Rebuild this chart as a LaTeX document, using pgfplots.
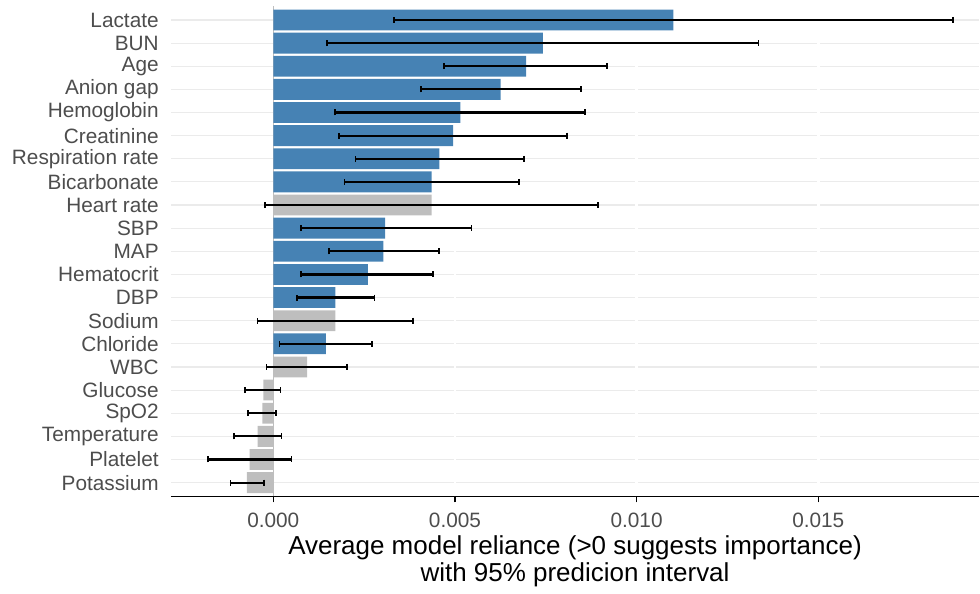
\documentclass[border=0pt]{standalone}
\usepackage{pgfplots}
\usepackage{pgfplotstable}
\pgfplotsset{compat=1.18}
\usepackage{fontspec}
\setmainfont{Liberation Sans}
\definecolor{steel}{HTML}{4682B4}
\definecolor{gry}{HTML}{BEBEBE}
\definecolor{txt}{HTML}{4D4D4D}
\definecolor{gridc}{HTML}{EBEBEB}

\pgfplotstableread{
y val lo hi
21 0.01101 0.00332 0.01871
20 0.00742 0.00147 0.01336
19 0.00696 0.00470 0.00919
18 0.00626 0.00407 0.00847
17 0.00515 0.00170 0.00858
16 0.00495 0.00181 0.00808
15 0.00457 0.00226 0.00690
14 0.00436 0.00196 0.00677
12 0.00308 0.00076 0.00545
11 0.00303 0.00154 0.00456
10 0.00260 0.00076 0.00439
9 0.00171 0.00065 0.00278
7 0.00145 0.00017 0.00272
}\blue

\pgfplotstableread{
y val lo hi
13 0.00436 -0.00023 0.00893
8 0.00171 -0.00043 0.00384
6 0.00093 -0.00019 0.00203
5 -0.00027 -0.00078 0.00020
4 -0.00030 -0.00070 0.00007
3 -0.00043 -0.00109 0.00023
2 -0.00065 -0.00180 0.00050
1 -0.00073 -0.00118 -0.00026
}\grey

\begin{document}
\begin{tikzpicture}
\begin{axis}[
 scale only axis, width=809pt, height=490.8pt,
 xmin=-0.00282, xmax=0.01943, ymin=0.4, ymax=21.6,
 axis x line*=bottom, axis y line*=left,
 x axis line style={-, black, line width=1.6pt},
 y axis line style={draw=none},
 xtick={0,0.005,0.01,0.015}, xticklabels={0.000,0.005,0.010,0.015},
 scaled x ticks=false,
 ytick={1,...,21},
 yticklabels={Potassium,Platelet,Temperature,SpO2,Glucose,WBC,Chloride,Sodium,DBP,Hematocrit,MAP,SBP,Heart rate,Bicarbonate,Respiration rate,Creatinine,Hemoglobin,Anion gap,Age,BUN,Lactate},
 ymajorgrids, y grid style={gridc, line width=1.1pt},
 ytick style={draw=none},
 xtick style={black, line width=1.2pt},
 tick align=outside, major tick length=6pt,
 yticklabel style={font=\fontsize{20.8}{24}\selectfont, text=txt, inner sep=0pt, xshift=-6pt},
 xticklabel style={font=\fontsize{20.8}{24}\selectfont, text=txt, inner sep=0pt, yshift=-10pt},
 xlabel={Average model reliance (>0 suggests importance)\\with 95\% predicion interval},
 xlabel style={font=\fontsize{26}{27}\selectfont, align=center, inner sep=0pt, yshift=-8pt},
 clip=false,
]
\addplot[white, line width=2.5pt, forget plot] coordinates {(0.005,0.4) (0.005,21.6)};
\addplot[white, line width=2.5pt, forget plot] coordinates {(0.010,0.4) (0.010,21.6)};
\addplot[white, line width=2.5pt, forget plot] coordinates {(0.015,0.4) (0.015,21.6)};
\addplot[gry, line width=1.5pt, forget plot] coordinates {(0,0.4) (0,21.6)};
\addplot[xbar, bar width=0.9, bar shift=0pt, fill=steel, draw=none] table[x=val, y=y]{\blue};
\addplot[xbar, bar width=0.9, bar shift=0pt, fill=gry, draw=none] table[x=val, y=y]{\grey};
\addplot[black, line width=2.2pt, mark=none, draw=none,
  error bars/x dir=both, error bars/x explicit,
  error bars/error bar style={draw=black, line width=2.2pt},
  error bars/error mark=|,
  error bars/error mark options={draw=black, line width=1.6pt, mark size=3pt}]
  table[x=val, y=y, x error plus expr=\thisrow{hi}-\thisrow{val}, x error minus expr=\thisrow{val}-\thisrow{lo}]{\blue};
\addplot[black, line width=2.2pt, mark=none, draw=none,
  error bars/x dir=both, error bars/x explicit,
  error bars/error bar style={draw=black, line width=2.2pt},
  error bars/error mark=|,
  error bars/error mark options={draw=black, line width=1.6pt, mark size=3pt}]
  table[x=val, y=y, x error plus expr=\thisrow{hi}-\thisrow{val}, x error minus expr=\thisrow{val}-\thisrow{lo}]{\grey};
\end{axis}
\path (current axis.south west) ++(-171pt,-97.1pt) rectangle ++(980pt,594pt);
\end{tikzpicture}
\end{document}
